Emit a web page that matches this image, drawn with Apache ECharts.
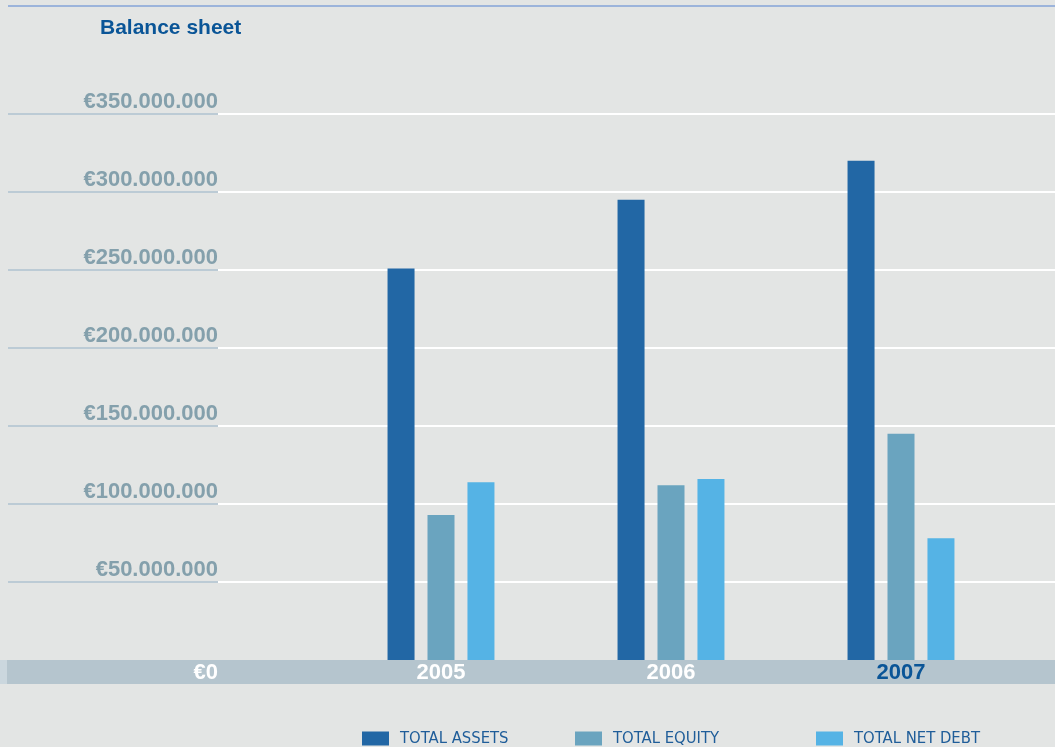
<!DOCTYPE html>
<html>
<head>
<meta charset="utf-8">
<script src="https://cdn.jsdelivr.net/npm/echarts@6/dist/echarts.min.js"></script>
<style>
  html, body { margin: 0; padding: 0; background: #e3e5e4; }
  #chart { width: 1055px; height: 747px; }
</style>
</head>
<body>
<div id="chart"></div>
<script>
// Balance sheet figures, in euros
const years = ['2005', '2006', '2007'];
const totalAssets = [251000000, 295000000, 320000000];
const totalEquity = [93000000, 112000000, 145000000];
const totalNetDebt = [114000000, 116000000, 78000000];

const yMin = 0;
const yMax = 350000000;
const yStep = 50000000;

const seriesNames = ['TOTAL ASSETS', 'TOTAL EQUITY', 'TOTAL NET DEBT'];
const seriesColors = ['#2267a5', '#6aa4bf', '#55b3e5'];

// €350.000.000 style thousands separators
function euro(v) {
  const s = String(Math.round(v));
  return '€' + s.replace(/\B(?=(\d{3})+(?!\d))/g, '.');
}

const LABEL_FONT = 'Liberation Sans, Arial, sans-serif';
const LABEL_SIZE = 22;
const TOP = 114, BOTTOM = 87;

// one colour per split line, the zero line hidden under the year band
function lineColors(c) {
  const n = Math.round((yMax - yMin) / yStep) + 1;
  const arr = [];
  for (let i = 0; i < n; i++) arr.push(i === 0 ? 'rgba(0,0,0,0)' : c);
  return arr;
}

const chart = echarts.init(document.getElementById('chart'), null, { renderer: 'canvas' });

const legendBase = {
  top: 730,
  padding: 0,
  itemWidth: 27,
  itemHeight: 14,
  icon: 'rect',
  textStyle: {
    fontFamily: 'Liberation Sans Narrow, DejaVu Sans Condensed, sans-serif',
    fontSize: 16.5,
    color: '#1f5d99',
    padding: [0, 0, 0, 6]
  }
};

chart.setOption({
  backgroundColor: '#e3e5e4',
  animation: false,
  title: {
    text: 'Balance sheet',
    left: 100,
    top: 18,
    padding: 0,
    textStyle: {
      fontFamily: 'Liberation Sans, Arial, sans-serif',
      fontWeight: 'bold',
      fontSize: 21,
      color: '#0a5597'
    }
  },
  legend: [
    Object.assign({ left: 362, data: [seriesNames[0]] }, legendBase),
    Object.assign({ left: 575, data: [seriesNames[1]] }, legendBase),
    Object.assign({ left: 816, data: [seriesNames[2]] }, legendBase)
  ],
  graphic: [
    { type: 'line', z: 1, shape: { x1: 8, y1: 6, x2: 1055, y2: 6 }, style: { stroke: '#9cb4db', lineWidth: 2 } },
    { type: 'rect', z: 1, shape: { x: 7, y: 660, width: 1048, height: 24 }, style: { fill: '#b5c5ce' } },
    { type: 'rect', z: 1, shape: { x: 0, y: 660, width: 7, height: 24 }, style: { fill: '#cbd7de' } }
  ],
  grid: [
    // label column with its grey-blue rules
    { left: 8, width: 210, top: TOP, bottom: BOTTOM },
    // plot area with white rules
    { left: 218, right: 0, top: TOP, bottom: BOTTOM },
    // bars
    { left: 326, width: 690, top: TOP, bottom: BOTTOM }
  ],
  xAxis: [
    { gridIndex: 0, type: 'value', show: false },
    { gridIndex: 1, type: 'value', show: false },
    {
      gridIndex: 2,
      type: 'category',
      data: years.map((y, i) => i === years.length - 1
        ? { value: y, textStyle: { color: '#0a5597' } }
        : y),
      axisLine: { show: false },
      axisTick: { show: false },
      z: 5,
      axisLabel: {
        margin: 2,
        fontFamily: LABEL_FONT,
        fontWeight: 'bold',
        fontSize: LABEL_SIZE,
        color: '#ffffff'
      }
    }
  ],
  yAxis: [
    {
      gridIndex: 0,
      type: 'value',
      position: 'right',
      min: yMin, max: yMax, interval: yStep,
      z: 5,
      axisLine: { show: false },
      axisTick: { show: false },
      splitLine: { show: true, lineStyle: { color: lineColors('#bccbd5'), width: 2 } },
      axisLabel: {
        inside: true,
        margin: 0,
        showMinLabel: true,
        showMaxLabel: true,
        verticalAlign: 'middle',
        formatter: v => v === 0 ? '{z|' + euro(v) + '}' : '{n|' + euro(v) + '}',
        rich: {
          n: {
            fontFamily: LABEL_FONT, fontWeight: 'bold', fontSize: LABEL_SIZE,
            lineHeight: 22, color: '#84a0ac', padding: [0, 0, 25, 0]
          },
          z: {
            fontFamily: LABEL_FONT, fontWeight: 'bold', fontSize: LABEL_SIZE,
            lineHeight: 22, color: '#ffffff', padding: [25, 0, 0, 0]
          }
        }
      }
    },
    {
      gridIndex: 1,
      type: 'value',
      min: yMin, max: yMax, interval: yStep,
      z: 0,
      axisLine: { show: false },
      axisTick: { show: false },
      axisLabel: { show: false },
      splitLine: { show: true, lineStyle: { color: lineColors('#ffffff'), width: 2 } }
    },
    {
      gridIndex: 2,
      type: 'value',
      min: yMin, max: yMax, interval: yStep,
      show: false
    }
  ],
  series: [
    { name: seriesNames[0], data: totalAssets, color: seriesColors[0] },
    { name: seriesNames[1], data: totalEquity, color: seriesColors[1] },
    { name: seriesNames[2], data: totalNetDebt, color: seriesColors[2] }
  ].map(s => Object.assign({
    type: 'bar',
    xAxisIndex: 2,
    yAxisIndex: 2,
    barWidth: 27,
    barGap: '48%',
    z: 3
  }, s))
});
</script>
</body>
</html>
